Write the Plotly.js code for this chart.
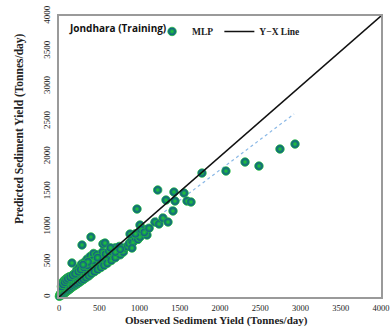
<!DOCTYPE html>
<html>
<head>
<meta charset="utf-8">
<script src="https://cdn.plot.ly/plotly-3.0.1.min.js"></script>
<style>html,body{margin:0;padding:0;background:#fff}#chart{width:390px;height:327px}</style>
</head>
<body>
<div id="chart"></div>
<script>
// Observed vs predicted sediment yield (Tonnes/day)
const observed = [
  5,10,15,20,25,30,35,40,45,50,55,60,65,70,75,80,85,90,95,100,
  105,110,115,120,125,130,135,140,145,150,160,165,170,180,185,190,200,205,210,220,
  225,230,240,250,255,265,270,280,290,300,305,320,330,335,350,360,370,380,390,400,
  420,430,440,460,470,480,500,510,520,540,550,560,580,590,600,620,640,650,670,690,
  700,720,740,760,780,800,820,850,870,900,920,950,980,1000,1030,1050,1080,
  40,60,80,100,130,160,190,220,250,280,320,350,390,430,470,510,540,580,620,660,700,750,
  30,50,70,90,110,140,170,200,240,270,310,350,
  161,286,397,546,571,420,360,300,480,640,700,760,
  882,907,969,1006,1006,1093,950,1020,1060,1120,
  1192,1242,1292,1354,1416,1226,1329,1428,1441,1553,1590,1640,
  1776,2074,2311,2484,2745,2932
];
const predicted = [
  10,30,20,50,40,60,30,80,55,100,70,45,120,90,60,140,110,75,160,130,
  90,180,150,100,200,160,115,230,175,130,250,190,145,270,210,160,290,230,175,300,
  250,190,320,270,210,340,290,230,360,310,250,380,330,275,400,350,300,430,370,330,
  450,390,360,470,420,390,500,450,420,520,480,450,560,510,480,580,540,520,610,580,
  560,640,620,600,660,640,700,720,760,800,780,840,820,880,900,940,960,
  200,230,250,270,290,300,330,380,420,470,500,540,580,620,600,560,640,610,650,680,700,720,
  150,180,210,240,260,280,310,330,360,390,420,450,
  484,740,854,754,768,520,500,460,560,700,640,680,
  896,697,1252,1024,854,882,900,960,920,980,
  1067,1039,1124,1067,1224,1523,1380,1494,1366,1480,1366,1352,
  1764,1793,1921,1864,2106,2177
];
// Y = X reference line
const lineX = [0, 4000];
const lineY = [0, 4000];
// fitted trend (dotted)
const trendX = [0, 2920];
const trendY = [80, 2605];
const ticks = [0, 500, 1000, 1500, 2000, 2500, 3000, 3500, 4000];

const serif = '"Liberation Serif", "Times New Roman", serif';

const traces = [
  {x: trendX, y: trendY, mode: 'lines', showlegend: false, hoverinfo: 'skip',
   line: {color: '#8ab8e6', width: 1.2, dash: 'dot'}},
  {x: observed, y: predicted, mode: 'markers', name: 'MLP', cliponaxis: false, legend: 'legend',
   marker: {size: 8.5, color: '#0f3f9e', gradient: {type: 'radial', color: '#1fd42c'},
            line: {width: 0.8, color: '#22c433'}}},
  {x: lineX, y: lineY, mode: 'lines', name: 'Y\u2212X Line', legend: 'legend2',
   line: {color: '#111', width: 1.6}}
];

const legendFont = {family: serif, size: 9.5, color: '#222', weight: 'bold'};

const layout = {
  width: 390, height: 327,
  margin: {l: 59, r: 9, t: 16, b: 30, autoexpand: false},
  paper_bgcolor: '#fff', plot_bgcolor: '#fff',
  showlegend: true,
  legend: {x: 0.289, y: 0.945, xanchor: 'left', yanchor: 'middle',
           bgcolor: 'rgba(0,0,0,0)', font: legendFont, itemwidth: 30, borderwidth: 0},
  legend2: {x: 0.498, y: 0.945, xanchor: 'left', yanchor: 'middle',
           bgcolor: 'rgba(0,0,0,0)', font: legendFont, itemwidth: 30, borderwidth: 0},
  xaxis: {range: [0, 4000], tickvals: ticks, ticktext: ticks.map(String),
          showgrid: false, zeroline: false, showline: true, mirror: true,
          linecolor: '#9a9a9a', linewidth: 2, ticks: '', ticklabelstandoff: 2,
          tickfont: {family: serif, size: 8.5, color: '#222'}},
  yaxis: {range: [0, 4000], tickvals: ticks, ticktext: ticks.map(String),
          showgrid: false, zeroline: false, showline: true, mirror: true,
          linecolor: '#9a9a9a', linewidth: 2, ticks: '', tickangle: -90, ticklabelstandoff: 3,
          tickfont: {family: serif, size: 9, color: '#222'}},
  annotations: [
    {xref: 'paper', yref: 'paper', x: 0.025, y: 0.958, xanchor: 'left', yanchor: 'middle',
     text: '<b>Jondhara (Training)</b>', showarrow: false,
     font: {family: '"Open Sans", sans-serif', size: 10, color: '#111'}},
    {xref: 'paper', yref: 'paper', x: 0.49, y: -0.085, xanchor: 'center', yanchor: 'middle',
     text: '<b>Observed Sediment Yield (Tonnes/day)</b>', showarrow: false,
     font: {family: serif, size: 11, color: '#222'}},
    {xref: 'paper', yref: 'paper', x: -0.122, y: 0.6, xanchor: 'center', yanchor: 'middle',
     textangle: -90, text: '<b>Predicted Sediment Yield (Tonnes/day)</b>', showarrow: false,
     font: {family: serif, size: 11.5, color: '#222'}}
  ]
};

Plotly.newPlot('chart', traces, layout, {displayModeBar: false, staticPlot: true});
</script>
</body>
</html>
